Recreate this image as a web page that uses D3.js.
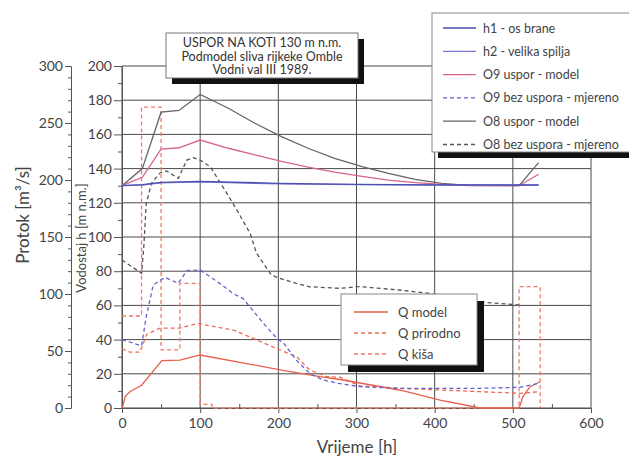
<!DOCTYPE html>
<html>
<head>
<meta charset="utf-8">
<script src="https://cdn.jsdelivr.net/npm/d3@7"></script>
<style>
  body { margin: 0; background: #fff; }
  svg { font-family: Lato, "Open Sans", sans-serif; }
</style>
</head>
<body>
<svg id="chart" width="629" height="458"></svg>
<script>
// vodostaj h [m n.m.] - lijeva unutarnja os
let tH = [0, 26, 50, 100, 200, 300, 400, 508, 533];
let h1 = [130, 130.6, 132, 132.5, 131.4, 130.8, 130.5, 130.4, 130.4];
let h2 = [130, 130.3, 131.6, 132.2, 131.1, 130.6, 130.4, 130.3, 130.3];

let tO9 = [0, 26, 50, 73, 100, 136, 170, 204, 238, 272, 307, 341, 375, 409, 443, 508, 533];
let o9Model = [130, 134.9, 151.4, 152.2, 156.7, 151.9, 148, 144.2, 140.8, 138, 135.5, 133.3, 131.8, 130.8, 130.1, 130, 136.7];

let tO9m = [0, 25, 31, 40, 55, 72, 83, 100, 125, 142, 155, 181, 198, 207, 223, 240, 257, 277, 304, 355, 407, 458, 509, 533];
let o9Mjereno = [40, 36.3, 53.4, 72, 76.4, 72.9, 80.3, 80.7, 72.9, 67, 64, 49.5, 40.8, 37.8, 28, 20.3, 16.4, 14.4, 12.5, 11.5, 11.5, 11.5, 12.1, 14.4];

let tO8 = [0, 26, 50, 73, 100, 136, 170, 204, 238, 272, 307, 341, 375, 409, 443, 508, 533];
let o8Model = [130, 140, 173, 174, 183.4, 175.3, 166.5, 158.7, 151.9, 146, 141.1, 137.2, 133.7, 131.4, 130.2, 130, 143.5];

let tO8m = [0, 25, 28, 31, 38, 49, 57, 72, 83, 91, 100, 113, 129, 147, 164, 172, 191, 202, 223, 240, 279, 304, 355, 394, 458, 509];
let o8Mjereno = [86.5, 78.8, 95, 119.7, 131.6, 137.6, 138.6, 134.3, 145, 146.4, 145, 141, 129.4, 115.8, 102, 90.6, 77.8, 75.8, 72.9, 70.9, 70, 71, 69, 67, 62, 60.2];

// protok Q [m3/s] - vanjska os
let tQm = [0, 1, 4, 10, 25, 51, 74, 100, 204, 240, 253, 279, 355, 407, 458, 508, 513, 522, 535];
let qModel = [0, 1.2, 10, 14.3, 20, 41.5, 42, 46.5, 33.3, 29, 27.5, 25, 15.8, 7, 0, 0, 10, 18.7, 23];

let tQp = [0, 10, 23, 31.6, 48.6, 74, 97.6, 112.6, 142.4, 168, 202, 223.5, 240, 262, 279, 304.5, 355.6, 407, 458, 509, 535];
let qPrirodno = [52, 49, 49, 64.6, 70, 70, 74.3, 72, 68.4, 61, 50.9, 45, 33.3, 27.5, 27, 19.3, 17.3, 15.8, 14.3, 12.9, 14.3];

let tQk = [0, 25, 50, 74, 100, 115, 508, 535];
let qKisa = [80.7, 264, 51, 109.4, 3.2, 0, 106.4, 0];

let xTicks = [0, 100, 200, 300, 400, 500, 600];
let hTicks = [0, 20, 40, 60, 80, 100, 120, 140, 160, 180, 200];
let qTicks = [0, 50, 100, 150, 200, 250, 300];

let titleLines = ["USPOR NA KOTI 130 m n.m.", "Podmodel sliva rijkeke Omble", "Vodni val III 1989."];

let svg = d3.select("#chart");

let x = d3.scaleLinear().domain([0, 600]).range([122, 591]);
let yH = d3.scaleLinear().domain([0, 200]).range([408, 66]);
let yQ = d3.scaleLinear().domain([0, 300]).range([408, 66]);

let textCol = "#444";
let gridCol = "#4a4a4a";

// mreza
let grid = svg.append("g");
grid.selectAll(".gh").data(hTicks).enter().append("line")
  .attr("x1", x(0)).attr("x2", x(600))
  .attr("y1", d => yH(d)).attr("y2", d => yH(d))
  .attr("stroke", gridCol).attr("stroke-width", 1);
grid.selectAll(".gv").data(xTicks).enter().append("line")
  .attr("x1", d => x(d)).attr("x2", d => x(d))
  .attr("y1", yH(0)).attr("y2", yH(200))
  .attr("stroke", gridCol).attr("stroke-width", 1);

// osi
function styleAxis(g) {
  g.selectAll("path, line").attr("stroke", "#555");
  g.selectAll("text").attr("fill", textCol).attr("font-family", "Lato, sans-serif");
}

let xMinor = svg.append("g").attr("transform", "translate(0,408)")
  .call(d3.axisTop(x).tickValues(d3.range(50, 600, 100)).tickSize(4).tickFormat(""));
xMinor.select(".domain").remove();
styleAxis(xMinor);

let xAxis = svg.append("g").attr("transform", "translate(0,408)")
  .call(d3.axisBottom(x).tickValues(xTicks).tickSize(5).tickSizeOuter(0).tickPadding(5));
xAxis.selectAll("text").attr("font-size", 14);
styleAxis(xAxis);

let hMinor = svg.append("g").attr("transform", "translate(122,0)")
  .call(d3.axisLeft(yH).tickValues(d3.range(10, 200, 20)).tickSize(4).tickFormat(""));
hMinor.select(".domain").remove();
styleAxis(hMinor);

let hAxis = svg.append("g").attr("transform", "translate(122,0)")
  .call(d3.axisLeft(yH).tickValues(hTicks).tickSize(8).tickSizeOuter(0).tickPadding(2));
hAxis.selectAll("text").attr("font-size", 14);
styleAxis(hAxis);

let qMinor = svg.append("g").attr("transform", "translate(71,0)")
  .call(d3.axisLeft(yQ).tickValues(d3.range(0, 301, 10).filter(d => d % 50)).tickSize(3).tickFormat(""));
qMinor.select(".domain").remove();
styleAxis(qMinor);

let qAxis = svg.append("g").attr("transform", "translate(71,0)")
  .call(d3.axisLeft(yQ).tickValues(qTicks).tickSize(6).tickSizeOuter(6).tickPadding(2));
qAxis.selectAll("text").attr("font-size", 14);
styleAxis(qAxis);

svg.append("text").attr("x", 357).attr("y", 453).attr("text-anchor", "middle")
  .attr("font-size", 17).attr("fill", textCol).text("Vrijeme [h]");
svg.append("text").attr("transform", "translate(29,215) rotate(-90)").attr("text-anchor", "middle")
  .attr("font-size", 17).attr("fill", textCol).text("Protok [m³/s]");
svg.append("text").attr("transform", "translate(86,238) rotate(-90)").attr("text-anchor", "middle")
  .attr("font-size", 13).attr("fill", textCol).text("Vodostaj h [m n.m.]");

// serije
let series = [
  { t: tQk, v: qKisa, y: yQ, color: "#f07a66", dash: "4,3", step: true },
  { t: tQp, v: qPrirodno, y: yQ, color: "#ec6a55", dash: "4,3" },
  { t: tQm, v: qModel, y: yQ, color: "#e8604a", dash: null },
  { t: tO8m, v: o8Mjereno, y: yH, color: "#555", dash: "4,3" },
  { t: tO9m, v: o9Mjereno, y: yH, color: "#6262d0", dash: "4,3" },
  { t: tO8, v: o8Model, y: yH, color: "#666", dash: null },
  { t: tO9, v: o9Model, y: yH, color: "#d6648e", dash: null },
  { t: tH, v: h2, y: yH, color: "#7a7ad6", dash: null },
  { t: tH, v: h1, y: yH, color: "#4e4eb0", dash: null }
];

series.forEach(s => {
  let pts = s.t.map((t, i) => [t, s.v[i]]);
  let line = d3.line().x(d => x(d[0])).y(d => s.y(d[1]))
    .curve(s.step ? d3.curveStepAfter : d3.curveLinear);
  svg.append("path").datum(pts)
    .attr("d", line)
    .attr("fill", "none")
    .attr("stroke", s.color)
    .attr("stroke-width", 1.3)
    .attr("stroke-dasharray", s.dash);
});

// naslov
svg.append("rect").attr("x", 172).attr("y", 39).attr("width", 192).attr("height", 45).attr("fill", "#111");
svg.append("rect").attr("x", 166).attr("y", 33).attr("width", 192).attr("height", 45)
  .attr("fill", "#fff").attr("stroke", "#777");
svg.selectAll(".title").data(titleLines).enter().append("text")
  .attr("x", 262).attr("y", (d, i) => 47 + i * 13.5)
  .attr("text-anchor", "middle").attr("font-size", 12.5).attr("fill", "#333")
  .text(d => d);

// legenda vodostaja
let legH = [
  { name: "h1 - os brane", color: "#4e4eb0", dash: null },
  { name: "h2 - velika spilja", color: "#7a7ad6", dash: null },
  { name: "O9 uspor - model", color: "#d6648e", dash: null },
  { name: "O9 bez uspora - mjereno", color: "#6262d0", dash: "4,3" },
  { name: "O8 uspor - model", color: "#666", dash: null },
  { name: "O8 bez uspora - mjereno", color: "#555", dash: "4,3" }
];
svg.append("rect").attr("x", 438).attr("y", 19).attr("width", 200).attr("height", 139).attr("fill", "#111");
svg.append("rect").attr("x", 432).attr("y", 13).attr("width", 200).attr("height", 139)
  .attr("fill", "#fff").attr("stroke", "#888");
let lg1 = svg.selectAll(".lg1").data(legH).enter().append("g")
  .attr("transform", (d, i) => `translate(0,${28 + i * 23.3})`);
lg1.append("line").attr("x1", 443).attr("x2", 476)
  .attr("stroke", d => d.color).attr("stroke-width", 1.3).attr("stroke-dasharray", d => d.dash);
lg1.append("text").attr("x", 483).attr("y", 4.5).attr("font-size", 12.5).attr("fill", textCol).text(d => d.name);

// legenda protoka
let legQ = [
  { name: "Q model", color: "#e8604a", dash: null },
  { name: "Q prirodno", color: "#ec6a55", dash: "4,3" },
  { name: "Q kiša", color: "#f07a66", dash: "4,3" }
];
svg.append("rect").attr("x", 348).attr("y", 301).attr("width", 136).attr("height", 71).attr("fill", "#111");
svg.append("rect").attr("x", 341).attr("y", 294).attr("width", 136).attr("height", 71)
  .attr("fill", "#fff").attr("stroke", "#888");
let lg2 = svg.selectAll(".lg2").data(legQ).enter().append("g")
  .attr("transform", (d, i) => `translate(0,${312 + i * 21})`);
lg2.append("line").attr("x1", 354).attr("x2", 388)
  .attr("stroke", d => d.color).attr("stroke-width", 1.3).attr("stroke-dasharray", d => d.dash);
lg2.append("text").attr("x", 398).attr("y", 4.5).attr("font-size", 13).attr("fill", textCol).text(d => d.name);
</script>
</body>
</html>
